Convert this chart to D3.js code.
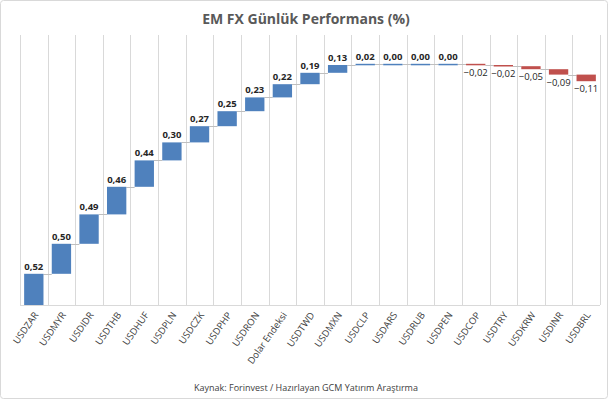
<!DOCTYPE html>
<html lang="en">
<head>
<meta charset="UTF-8">
<script src="https://d3js.org/d3.v7.min.js"></script>
<style>
  body { margin: 0; background: #fff; font-family: "Open Sans", Arial, sans-serif; }
</style>
</head>
<body>
<div id="chart"></div>
<script>
  const categories = ["USDZAR","USDMYR","USDIDR","USDTHB","USDHUF","USDPLN","USDCZK","USDPHP","USDRON","Dolar Endeksi","USDTWD","USDMXN","USDCLP","USDARS","USDRUB","USDPEN","USDCOP","USDTRY","USDKRW","USDINR","USDBRL"];
  const values = [0.52,0.50,0.49,0.46,0.44,0.30,0.27,0.25,0.23,0.22,0.19,0.13,0.02,0.00,0.00,0.00,-0.02,-0.02,-0.05,-0.09,-0.11];

  const W = 612, H = 404;
  const plotLeft = 20, plotRight = 600, plotTop = 35, plotBottom = 305;

  // running totals for the floating bars
  let run = 0;
  const rows = categories.map((c, i) => {
    const start = run;
    run += values[i];
    return { c, v: values[i], start, end: run };
  });

  const svg = d3.select("#chart").append("svg").attr("width", W).attr("height", H);

  svg.append("rect").attr("x", 0.5).attr("y", 0.5).attr("width", 607).attr("height", 398)
    .attr("rx", 3).attr("fill", "#fff").attr("stroke", "#d9d9d9");

  svg.append("text").attr("x", 306).attr("y", 24).attr("text-anchor", "middle")
    .attr("font-size", 14).attr("font-weight", "bold").attr("fill", "#595959")
    .text("EM FX Günlük Performans (%)");

  const x = d3.scaleBand().domain(categories).range([plotLeft, plotRight]).paddingInner(0.3).paddingOuter(0.15);
  const y = d3.scaleLinear().domain([0, 4.5]).range([plotBottom, plotTop]);

  // vertical gridlines between categories
  const colW = (plotRight - plotLeft) / categories.length;
  svg.append("g").selectAll("line").data(d3.range(categories.length + 1)).join("line")
    .attr("x1", i => Math.round(plotLeft + i * colW) + 0.5)
    .attr("x2", i => Math.round(plotLeft + i * colW) + 0.5)
    .attr("y1", plotTop).attr("y2", plotBottom)
    .attr("stroke", "#d9d9d9");

  // connectors
  svg.append("g").selectAll("line").data(rows.slice(0, -1)).join("line")
    .attr("x1", d => x(d.c) + x.bandwidth())
    .attr("x2", (d, i) => x(categories[i + 1]))
    .attr("y1", d => Math.round(y(d.end)) + 0.5)
    .attr("y2", d => Math.round(y(d.end)) + 0.5)
    .attr("stroke", "#bfbfbf");

  svg.append("g").selectAll("rect").data(rows).join("rect")
    .attr("x", d => x(d.c))
    .attr("width", x.bandwidth())
    .attr("y", d => y(Math.max(d.start, d.end)))
    .attr("height", d => Math.max(1.5, Math.abs(y(d.start) - y(d.end))))
    .attr("fill", d => d.v < 0 ? "#c0504d" : "#4f81bd");

  svg.append("g").selectAll("text").data(rows).join("text")
    .attr("x", d => x(d.c) + x.bandwidth() / 2)
    .attr("y", d => d.v < 0 ? y(d.end) + 11 : y(d.end) - 4)
    .attr("text-anchor", "middle")
    .attr("font-size", 9.5)
    .attr("font-weight", d => d.v < 0 ? "normal" : "bold")
    .attr("fill", "#262626")
    .text(d => d3.format(".2f")(d.v).replace(".", ","));

  // x axis
  svg.append("line").attr("x1", plotLeft).attr("x2", plotRight).attr("y1", plotBottom + 0.5).attr("y2", plotBottom + 0.5)
    .attr("stroke", "#d9d9d9");

  svg.append("g").selectAll("text").data(categories).join("text")
    .attr("transform", d => `translate(${x(d) + x.bandwidth() / 2 + 5},${plotBottom + 10}) rotate(-55)`)
    .attr("text-anchor", "end")
    .attr("font-size", 9.5)
    .attr("fill", "#404040")
    .text(d => d);

  svg.append("text").attr("x", 306).attr("y", 391).attr("text-anchor", "middle")
    .attr("font-size", 9).attr("fill", "#404040")
    .text("Kaynak: Forinvest / Hazırlayan GCM Yatırım Araştırma");
</script>
</body>
</html>
